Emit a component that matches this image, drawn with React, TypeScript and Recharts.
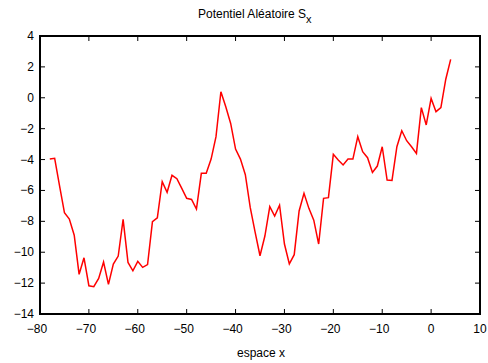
import React from 'react';
import { LineChart, Line, XAxis, YAxis, ReferenceArea, ReferenceLine } from 'recharts';

// espace x, pas de 1
const xs = [
  -78, -77, -76, -75, -74, -73, -72, -71, -70, -69, -68, -67, -66, -65, -64, -63, -62, -61, -60, -59,
  -58, -57, -56, -55, -54, -53, -52, -51, -50, -49, -48, -47, -46, -45, -44, -43, -42, -41, -40, -39,
  -38, -37, -36, -35, -34, -33, -32, -31, -30, -29, -28, -27, -26, -25, -24, -23, -22, -21, -20, -19,
  -18, -17, -16, -15, -14, -13, -12, -11, -10, -9, -8, -7, -6, -5, -4, -3, -2, -1, 0, 1, 2, 3, 4,
];

// potentiel S_x
const sx = [
  -3.97, -3.92, -5.7, -7.44, -7.85, -8.9, -11.43, -10.36, -12.17, -12.23, -11.7, -10.64, -12.08, -10.77, -10.25, -7.87, -10.66, -11.2, -10.59, -10.98,
  -10.8, -8.02, -7.77, -5.43, -6.12, -5.02, -5.24, -5.87, -6.51, -6.58, -7.2, -4.89, -4.89, -3.97, -2.52, 0.39, -0.58, -1.66, -3.32, -3.97,
  -4.98, -7.1, -8.7, -10.23, -8.95, -7.05, -7.66, -6.96, -9.47, -10.75, -10.16, -7.33, -6.19, -7.16, -7.92, -9.47, -6.51, -6.47, -3.66, -4.03,
  -4.35, -3.97, -3.97, -2.52, -3.49, -3.88, -4.83, -4.42, -3.17, -5.33, -5.35, -3.17, -2.13, -2.78, -3.17, -3.6, -0.64, -1.76, -0.04, -0.9, -0.64, 1.2, 2.49,
];

const xTicks = [-80, -70, -60, -50, -40, -30, -20, -10, 0, 10];
const yTicks = [-14, -12, -10, -8, -6, -4, -2, 0, 2, 4];
const xDomain = [-80, 10];
const yDomain = [-14, 4];

const data = xs.map((x, i) => ({ x, s: sx[i] }));

const W = 488;
const H = 363;
const MARGIN = { top: 36, right: 8, bottom: 19, left: 0 };
const Y_AXIS_W = 40;
const X_AXIS_H = 30;
const plotW = W - MARGIN.left - MARGIN.right - Y_AXIS_W;
const plotH = H - MARGIN.top - MARGIN.bottom - X_AXIS_H;
// ticks de 5px vers l'interieur (style gnuplot), en unites de donnees
const tx = (5 * (xDomain[1] - xDomain[0])) / plotW;
const ty = (5 * (yDomain[1] - yDomain[0])) / plotH;

const fmt = (v: number) => (v < 0 ? '\u2212' + Math.abs(v) : String(v));
const FONT = '"Liberation Sans", Arial, Helvetica, sans-serif';

// tickSize=1, tickMargin=0 : le bord du cadre est a 1px de (x, y)
const BottomTick = (p: any) => {
  const v = p.payload.value;
  return (
    <text x={p.x + (v < 0 ? -3 : 0)} y={p.y + 18} textAnchor="middle" fontSize={12} fontFamily={FONT} fill="#000">
      {fmt(v)}
    </text>
  );
};

const LeftTick = (p: any) => (
  <text x={p.x - 5} y={p.y + 4} textAnchor="end" fontSize={12} fontFamily={FONT} fill="#000">
    {fmt(p.payload.value)}
  </text>
);

export default function App() {
  return (
    <div style={{ position: 'absolute', left: 0, top: 0, width: W, height: H, fontFamily: FONT }}>
      <LineChart width={W} height={H} data={data} margin={MARGIN}>
        <XAxis
          dataKey="x"
          type="number"
          domain={xDomain}
          ticks={xTicks}
          height={X_AXIS_H}
          axisLine={false}
          tickLine={false}
          tickSize={1}
          tickMargin={0}
          tick={(p: any) => <BottomTick {...p} />}
        />
        <YAxis
          type="number"
          domain={yDomain}
          ticks={yTicks}
          width={Y_AXIS_W}
          axisLine={false}
          tickLine={false}
          tickSize={1}
          tickMargin={0}
          tick={(p: any) => <LeftTick {...p} />}
        />
        {xTicks.map((t) => (
          <ReferenceLine key={'b' + t} segment={[{ x: t, y: yDomain[0] }, { x: t, y: yDomain[0] + ty }]} stroke="#000" strokeWidth={1} ifOverflow="visible" />
        ))}
        {xTicks.map((t) => (
          <ReferenceLine key={'t' + t} segment={[{ x: t, y: yDomain[1] }, { x: t, y: yDomain[1] - ty }]} stroke="#000" strokeWidth={1} ifOverflow="visible" />
        ))}
        {yTicks.map((t) => (
          <ReferenceLine key={'l' + t} segment={[{ x: xDomain[0], y: t }, { x: xDomain[0] + tx, y: t }]} stroke="#000" strokeWidth={1} ifOverflow="visible" />
        ))}
        {yTicks.map((t) => (
          <ReferenceLine key={'r' + t} segment={[{ x: xDomain[1], y: t }, { x: xDomain[1] - tx, y: t }]} stroke="#000" strokeWidth={1} ifOverflow="visible" />
        ))}
        <ReferenceArea
          x1={xDomain[0]}
          x2={xDomain[1]}
          y1={yDomain[0]}
          y2={yDomain[1]}
          fill="none"
          fillOpacity={0}
          stroke="#000"
          strokeWidth={2}
          strokeOpacity={1}
          ifOverflow="visible"
        />
        <Line
          dataKey="s"
          type="linear"
          stroke="#ff0000"
          strokeWidth={1.5}
          dot={false}
          isAnimationActive={false}
        />
      </LineChart>
      <svg width={W} height={H} style={{ position: 'absolute', left: 0, top: 0, pointerEvents: 'none' }}>
        <text x={198} y={18} fontSize={12} fontFamily={FONT} fill="#000">
          Potentiel Aléatoire S
          <tspan dy={5} fontSize={11}>x</tspan>
        </text>
        <text x={261} y={357} fontSize={12} fontFamily={FONT} fill="#000" textAnchor="middle">
          espace x
        </text>
      </svg>
    </div>
  );
}
